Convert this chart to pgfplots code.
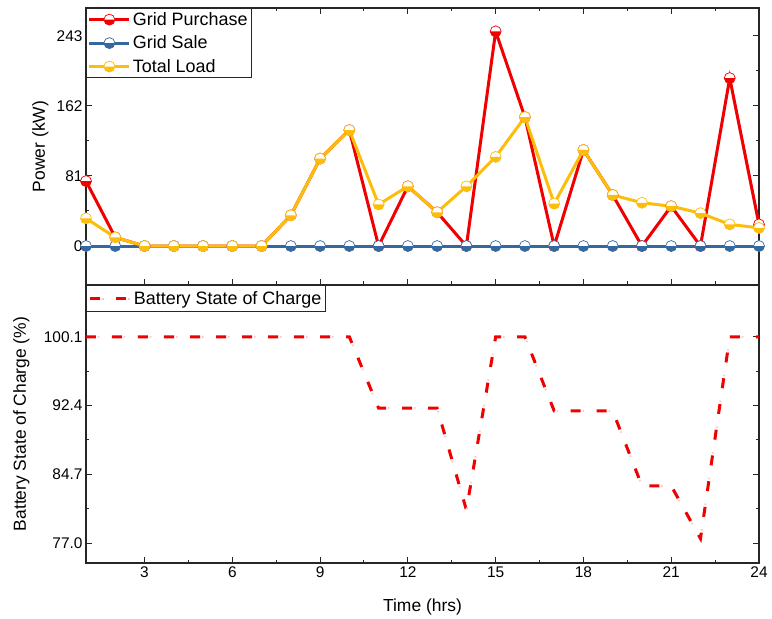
\documentclass[border=0pt]{standalone}
\usepackage{pgfplots}
\pgfplotsset{compat=1.18}
\usepackage{fontspec}
\setmainfont{Liberation Sans}
\definecolor{cred}{RGB}{240,0,0}
\definecolor{cblue}{RGB}{54,104,160}
\definecolor{cyel}{RGB}{252,190,10}
\definecolor{cpink}{RGB}{255,200,200}
\pgfdeclareplotmark{halfo}{%
  \begin{pgfscope}\pgfsetfillcolor{white}\pgfpathcircle{\pgfpointorigin}{\pgfplotmarksize}\pgfusepathqfill\end{pgfscope}%
  \pgfpathmoveto{\pgfqpoint{-\pgfplotmarksize}{0pt}}%
  \pgfpatharc{180}{360}{\pgfplotmarksize}%
  \pgfpathclose
  \pgfusepathqfill
  \pgfpathcircle{\pgfpointorigin}{\pgfplotmarksize}%
  \pgfusepathqstroke
}
\pgfplotsset{
  common/.style={
    scale only axis, width=673bp,
    xmin=1, xmax=24,
    xtick={3,6,9,12,15,18,21,24},
    minor x tick num=1, minor y tick num=1,
    tick align=inside,
    major tick length=6bp, minor tick length=3.5bp,
    axis line style={line width=1.2bp, black!85},
    every tick/.style={line width=1bp, black!85},
    tick label style={font=\fontsize{15.5}{17}\selectfont},
    /pgf/number format/assume math mode=true,
    label style={font=\fontsize{17.5}{20}\selectfont},
    legend style={font=\fontsize{18}{21}\selectfont, draw=black!85, line width=0.8bp,
      at={(0,1)}, anchor=north west},
    legend cell align=left,
  },
}
\begin{document}
\begin{tikzpicture}[x=1bp,y=1bp]
\useasboundingbox (-86bp,-56bp) rectangle (686bp,563bp);
\begin{axis}[common, name=top, at={(0bp,278bp)}, anchor=south west,
  height=277bp,
  ymin=-45, ymax=275,
  ytick={0,81,162,243},
  xticklabels={},
  ylabel={Power (kW)},
  ylabel style={at={(axis description cs:-0.0505,0.5)}, anchor=south},
  legend style={inner xsep=1.5bp, inner ysep=2bp, row sep=5bp},
  legend image code/.code={\draw[mark repeat=2,mark phase=2,#1] plot coordinates {(0bp,0bp) (20bp,0bp) (40bp,0bp)};},
]
\addplot[cred, line width=3bp, mark=halfo, mark size=5.5bp, mark options={solid, fill=cred, draw=cred, line width=0.7bp}] coordinates {
(1,75) (2,10) (3,0) (4,0) (5,0) (6,0) (7,0) (8,35.5) (9,101) (10,134) (11,0) (12,69) (13,39) (14,0) (15,248) (16,149) (17,0) (18,111) (19,59) (20,0) (21,46) (22,0) (23,194) (24,25)};
\addlegendentry{Grid Purchase}
\addplot[cblue, line width=3bp, mark=halfo, mark size=5.5bp, mark options={solid, fill=cblue, draw=cblue, line width=0.7bp}] coordinates {
(1,0) (2,0) (3,0) (4,0) (5,0) (6,0) (7,0) (8,0) (9,0) (10,0) (11,0) (12,0) (13,0) (14,0) (15,0) (16,0) (17,0) (18,0) (19,0) (20,0) (21,0) (22,0) (23,0) (24,0)};
\addlegendentry{Grid Sale}
\addplot[cyel, line width=3bp, mark=halfo, mark size=5.5bp, mark options={solid, fill=cyel, draw=cyel, line width=0.7bp}] coordinates {
(1,32) (2,10) (3,0) (4,0) (5,0) (6,0) (7,0) (8,35.5) (9,101) (10,134) (11,48) (12,69) (13,39) (14,69) (15,103) (16,149) (17,49) (18,111) (19,59) (20,50) (21,46) (22,38) (23,25) (24,21)};
\addlegendentry{Total Load}
\end{axis}
\begin{axis}[common, name=bot, at={(0bp,0bp)}, anchor=south west,
  height=278bp,
  xtick pos=bottom,
  ymin=74.76, ymax=105.9,
  ytick={77.0,84.7,92.4,100.1},
  yticklabel style={/pgf/number format/.cd, fixed, fixed zerofill, precision=1},
  xlabel={Time (hrs)},
  xlabel style={at={(axis description cs:0.5,-0.118)}, anchor=north},
  ylabel={Battery State of Charge (\%)},
  ylabel style={at={(axis description cs:-0.0788,0.5)}, anchor=south},
  legend style={inner xsep=2.5bp, inner ysep=4bp},
  legend image code/.code={\draw[#1] plot coordinates {(0bp,0bp) (40bp,0bp)};},
]
\addplot[cred, line width=3bp, dash pattern=on 10bp off 16bp,
  postaction={draw=cpink, line width=2bp, dash pattern=on 1.5bp off 24.5bp, dash phase=-12bp}] coordinates {
(1,100.1) (2,100.1) (3,100.1) (4,100.1) (5,100.1) (6,100.1) (7,100.1) (8,100.1) (9,100.1) (10,100.1) (11,92.1) (12,92.1) (13,92.1) (14,80.7) (15,100.1) (16,100.1) (17,91.8) (18,91.8) (19,91.8) (20,83.4) (21,83.4) (22,77.5) (23,100.1) (24,100.1)};
\addlegendentry{Battery State of Charge}
\end{axis}
\end{tikzpicture}
\end{document}
